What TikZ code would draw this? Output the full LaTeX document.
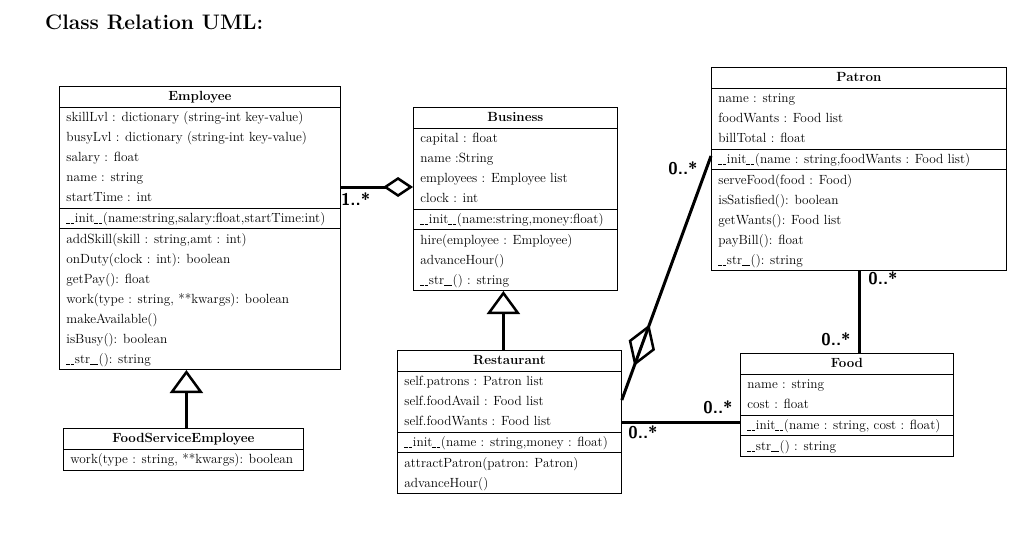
\documentclass[tikz,border=0pt]{standalone}
\usetikzlibrary{shapes.multipart, arrows.meta, decorations.markings, calc}
\newcommand\usc{\rule[-0.15ex]{0.28em}{0.4pt}\kern0.04em}

\begin{document}
\begin{tikzpicture}[x=1pt, y=-1pt,
    every node/.style={inner sep=0pt},
    umlclass/.style={rectangle split, rectangle split parts=4, draw, line width=0.8pt,
      align=left, inner xsep=7pt, inner ysep=0pt,
      rectangle split part align={center,left,left,left},
      font=\fontsize{13.3}{20}\selectfont, anchor=north west},
    umlsmall/.style={umlclass, rectangle split parts=2, rectangle split part align={center,left}},
    mult/.style={font=\sffamily\bfseries\fontsize{17}{17}\selectfont},
    link/.style={line width=3pt},
    agg/.style={link, -{Diamond[open, length=30pt, width=20pt, line width=2.5pt]}},
    inherit/.style={link, -{Triangle[open, length=23pt, width=33pt, line width=2.5pt]}}
  ]
    \useasboundingbox (0,0) rectangle (1024,535);

    % Title
    \node[anchor=west, font=\bfseries\fontsize{21}{21}\selectfont] (Title) at (45,22) {Class Relation UML:};

    % Classes
    \node[umlclass, minimum width=281pt] (Employee) at (59,86) {%
      \strut\textbf{Employee}
      \nodepart{two}\strut skillLvl : dictionary (string-int key-value)\\\strut busyLvl : dictionary (string-int key-value)\\\strut salary : float\\\strut name : string\\\strut startTime : int
      \nodepart{three}\strut \usc\usc init\usc\usc(name:string,salary:float,startTime:int)
      \nodepart{four}\strut addSkill(skill : string,amt : int)\\\strut onDuty(clock : int): boolean\\\strut getPay(): float\\\strut work(type : string, **kwargs): boolean\\\strut makeAvailable()\\\strut isBusy(): boolean\\\strut \usc\usc str\usc\usc(): string};

    \node[umlsmall, minimum width=240pt] (FoodServiceEmployee) at (63,428) {%
      \strut\textbf{FoodServiceEmployee}
      \nodepart{two}\strut work(type : string, **kwargs): boolean};

    \node[umlclass, minimum width=204pt] (Business) at (413,107) {%
      \strut\textbf{Business}
      \nodepart{two}\strut capital : float\\\strut name :String\\\strut employees : Employee list\\\strut clock : int
      \nodepart{three}\strut \usc\usc init\usc\usc(name:string,money:float)
      \nodepart{four}\strut hire(employee : Employee)\\\strut advanceHour()\\\strut \usc\usc str\usc\usc() : string};

    \node[umlclass, minimum width=224pt] (Restaurant) at (397,350) {%
      \strut\textbf{Restaurant}
      \nodepart{two}\strut self.patrons : Patron list\\\strut self.foodAvail : Food list\\\strut self.foodWants : Food list
      \nodepart{three}\strut \usc\usc init\usc\usc(name : string,money : float)
      \nodepart{four}\strut attractPatron(patron: Patron)\\\strut advanceHour()};

    \node[umlclass, minimum width=295pt] (Patron) at (711,67) {%
      \strut\textbf{Patron}
      \nodepart{two}\strut name : string\\\strut foodWants : Food list\\\strut billTotal : float
      \nodepart{three}\strut \usc\usc init\usc\usc(name : string,foodWants : Food list)
      \nodepart{four}\strut serveFood(food : Food)\\\strut isSatisfied(): boolean\\\strut getWants(): Food list\\\strut payBill(): float\\\strut \usc\usc str\usc\usc(): string};

    \node[umlclass, minimum width=213pt] (Food) at (740,353) {%
      \strut\textbf{Food}
      \nodepart{two}\strut name : string\\\strut cost : float
      \nodepart{three}\strut \usc\usc init\usc\usc(name : string, cost : float)
      \nodepart{four}\strut \usc\usc str\usc\usc() : string};

    % Relations
    \coordinate (empAgg) at ([yshift=12pt]Business.west);
    \draw[agg] (empAgg -| Employee.east) -- (empAgg);
    \node[mult, anchor=west] (mEmp) at ([yshift=-12pt]empAgg -| Employee.east) {1..*};

    \draw[inherit] ([xshift=-6pt]Restaurant.north) -- ([xshift=-6pt]Restaurant.north |- Business.south);
    \draw[inherit] ([xshift=3pt]FoodServiceEmployee.north) -- ([xshift=3pt]FoodServiceEmployee.north |- Employee.south);

    \coordinate (restAgg) at ([yshift=22pt]Restaurant.east);
    \coordinate (patAgg) at ([yshift=13pt]Patron.west);
    \draw[link, postaction={decorate}, decoration={markings,
        mark=at position 0.14 with {\arrowreversed{Diamond[open, length=44pt, width=28pt, line width=2.5pt]}}}]
      (restAgg) -- (patAgg);
    \node[mult] (mPat) at (683,168) {0..*};

    \draw[link] (Restaurant.east) -- (Restaurant.east -| Food.west);
    \node[mult] (mRest) at (643,432) {0..*};
    \node[mult] (mFood) at (718,407) {0..*};

    \draw[link] ([xshift=13pt]Food.north) -- ([xshift=13pt]Food.north |- Patron.south);
    \node[mult] (mPatFood) at (883,278) {0..*};
    \node[mult] (mFoodPat) at (836,339) {0..*};
\end{tikzpicture}
\end{document}
